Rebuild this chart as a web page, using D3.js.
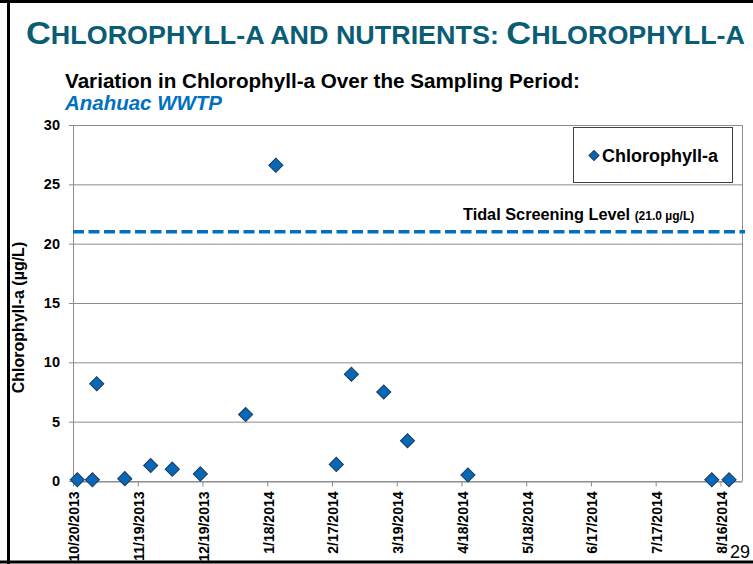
<!DOCTYPE html>
<html>
<head>
<meta charset="utf-8">
<script src="https://cdn.jsdelivr.net/npm/d3@7"></script>
<style>
  body { margin: 0; background: #fff; }
  svg { display: block; font-family: "Liberation Sans", Arial, sans-serif; }
</style>
</head>
<body>
<div id="chart"></div>
<script>
// sample dates and chlorophyll-a values (µg/L)
const sampleDates = ["2013-10-22", "2013-10-29", "2013-10-31", "2013-11-13", "2013-11-25", "2013-12-05",
    "2013-12-18", "2014-01-08", "2014-01-22", "2014-02-19", "2014-02-26", "2014-03-13",
    "2014-03-24", "2014-04-21", "2014-08-12", "2014-08-20"];
const chlaValues = [0.1, 0.1, 8.2, 0.2, 1.3, 1.0, 0.6, 5.6, 26.6, 1.4, 9.0, 7.5, 3.4, 0.5, 0.1, 0.1];

const tickDates = ["2013-10-20", "2013-11-19", "2013-12-19", "2014-01-18", "2014-02-17", "2014-03-19",
    "2014-04-18", "2014-05-18", "2014-06-17", "2014-07-17", "2014-08-16"];
const yTicks = [0, 5, 10, 15, 20, 25, 30];
const screeningLevel = 21.0;

const parse = d3.timeParse("%Y-%m-%d");
const data = sampleDates.map((d, i) => ({ date: parse(d), value: chlaValues[i] }));

const width = 753, height = 564;
const plot = { left: 73, right: 742, top: 125, bottom: 481 };

const svg = d3.select("#chart").append("svg")
    .attr("width", width)
    .attr("height", height);

// slide frame
svg.append("line").attr("x1", 0).attr("x2", width).attr("y1", 1.5).attr("y2", 1.5)
    .attr("stroke", "#000").attr("stroke-width", 3);
svg.append("line").attr("x1", 8.5).attr("x2", 8.5).attr("y1", 0).attr("y2", height)
    .attr("stroke", "#000").attr("stroke-width", 3);
svg.append("line").attr("x1", 0).attr("x2", width).attr("y1", 562).attr("y2", 562)
    .attr("stroke", "#000").attr("stroke-width", 3);

// slide title with small caps
const title = svg.append("text")
    .attr("x", 26)
    .attr("y", 43.5)
    .attr("fill", "#0b5c75")
    .attr("font-weight", "bold")
    .attr("textLength", 719)
    .attr("lengthAdjust", "spacingAndGlyphs");
[["C", 32], ["HLOROPHYLL-A AND NUTRIENTS: ", 25], ["C", 32], ["HLOROPHYLL-A", 25]].forEach(p => {
    title.append("tspan").attr("font-size", p[1] + "px").text(p[0]);
});

// chart subtitle
svg.append("text")
    .attr("x", 65)
    .attr("y", 87.5)
    .attr("font-size", "21px")
    .attr("font-weight", "bold")
    .attr("textLength", 515)
    .attr("lengthAdjust", "spacingAndGlyphs")
    .text("Variation in Chlorophyll-a Over the Sampling Period:");

svg.append("text")
    .attr("x", 65)
    .attr("y", 110)
    .attr("font-size", "20px")
    .attr("font-weight", "bold")
    .attr("font-style", "italic")
    .attr("fill", "#0070c0")
    .attr("textLength", 157)
    .attr("lengthAdjust", "spacingAndGlyphs")
    .text("Anahuac WWTP");

const x = d3.scaleTime()
    .domain([parse("2013-10-20"), parse("2014-08-26")])
    .range([plot.left, plot.right]);

const y = d3.scaleLinear()
    .domain([0, 30])
    .range([plot.bottom, plot.top]);

// gridlines
svg.append("g")
    .selectAll("line")
    .data(yTicks)
    .join("line")
    .attr("x1", plot.left - 4)
    .attr("x2", plot.right)
    .attr("y1", d => y(d) + 0.5)
    .attr("y2", d => y(d) + 0.5)
    .attr("stroke", "#8c8c8c")
    .attr("stroke-width", 1);

// plot area border (left + right)
svg.append("line").attr("x1", plot.left + 0.5).attr("x2", plot.left + 0.5)
    .attr("y1", plot.top).attr("y2", plot.bottom)
    .attr("stroke", "#8c8c8c");
svg.append("line").attr("x1", plot.right + 0.5).attr("x2", plot.right + 0.5)
    .attr("y1", plot.top).attr("y2", plot.bottom)
    .attr("stroke", "#8c8c8c");

// y tick labels
svg.append("g")
    .selectAll("text")
    .data(yTicks)
    .join("text")
    .attr("x", 60)
    .attr("y", d => y(d) + 5)
    .attr("text-anchor", "end")
    .attr("font-size", "14.5px")
    .attr("font-weight", "bold")
    .text(d => d);

// y axis title
svg.append("text")
    .attr("transform", `translate(24,${317.5}) rotate(-90)`)
    .attr("text-anchor", "middle")
    .attr("font-size", "16px")
    .attr("font-weight", "bold")
    .text("Chlorophyll-a (µg/L)");

// x axis
const xAxis = d3.axisBottom(x)
    .tickValues(tickDates.map(parse))
    .tickFormat(d3.timeFormat("%-m/%-d/%Y"))
    .tickSize(5)
    .tickSizeOuter(0);

const xg = svg.append("g")
    .attr("transform", `translate(0,${plot.bottom + 0.5})`)
    .call(xAxis);
xg.select(".domain").attr("stroke", "#8c8c8c");
xg.selectAll(".tick line").attr("stroke", "#8c8c8c");
xg.selectAll(".tick text")
    .attr("font-family", "Liberation Sans, Arial, sans-serif")
    .attr("font-size", "14px")
    .attr("font-weight", "bold")
    .attr("fill", "#000")
    .attr("text-anchor", "end")
    .attr("transform", "rotate(-90)")
    .attr("x", -10)
    .attr("y", 1)
    .attr("dy", "0.35em");

// tidal screening level
svg.append("line")
    .attr("x1", plot.left)
    .attr("x2", 745)
    .attr("y1", y(screeningLevel))
    .attr("y2", y(screeningLevel))
    .attr("stroke", "#0070c0")
    .attr("stroke-width", 3.5)
    .attr("stroke-dasharray", "11,4.5");

const tsl = svg.append("text")
    .attr("x", 463)
    .attr("y", 220)
    .attr("font-weight", "bold");
tsl.append("tspan").attr("font-size", "16.3px").text("Tidal Screening Level ");
tsl.append("tspan").attr("font-size", "12px").text("(21.0 µg/L)");

// diamonds
const diamond = d3.symbol().type(d3.symbolSquare).size(100);

svg.append("g")
    .selectAll("path")
    .data(data)
    .join("path")
    .attr("d", diamond)
    .attr("transform", d => `translate(${x(d.date)},${y(d.value)}) rotate(45)`)
    .attr("fill", "#0868b5")
    .attr("stroke", "#1b3a60")
    .attr("stroke-width", 1);

// legend
const legend = svg.append("g");
legend.append("rect")
    .attr("x", 573.5)
    .attr("y", 127.5)
    .attr("width", 159)
    .attr("height", 55)
    .attr("fill", "#fff")
    .attr("stroke", "#404040");
legend.append("path")
    .attr("d", d3.symbol().type(d3.symbolSquare).size(50))
    .attr("transform", "translate(594,155.5) rotate(45)")
    .attr("fill", "#0868b5")
    .attr("stroke", "#1b3a60");
legend.append("text")
    .attr("x", 602)
    .attr("y", 162)
    .attr("font-size", "18px")
    .attr("font-weight", "bold")
    .text("Chlorophyll-a");

// slide number
svg.append("text")
    .attr("x", 730)
    .attr("y", 558)
    .attr("font-size", "18px")
    .text("29");
</script>
</body>
</html>
